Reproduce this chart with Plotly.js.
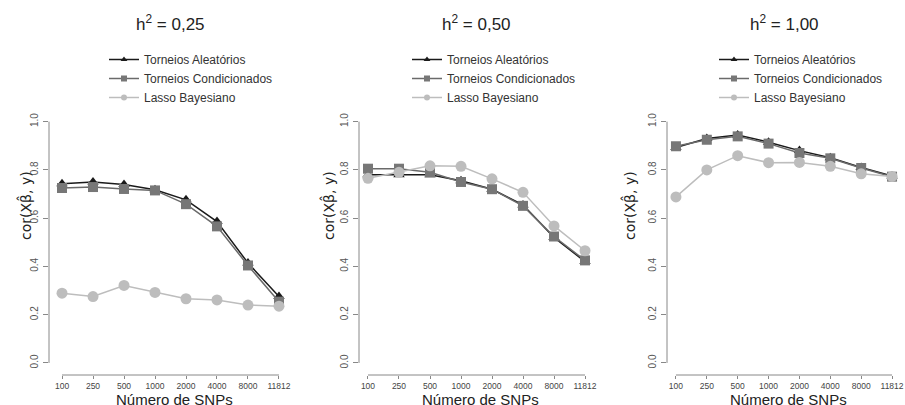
<!DOCTYPE html>
<html>
<head>
<meta charset="utf-8">
<script src="https://cdn.plot.ly/plotly-3.0.1.min.js"></script>
<style>html,body{margin:0;padding:0;background:#fff;}#chart{width:905px;height:405px;}</style>
</head>
<body>
<div id="chart"></div>
<script>
// ---- data ----
const categories = ['100', '250', '500', '1000', '2000', '4000', '8000', '11812'];
const seriesNames = ['Torneios Aleatórios', 'Torneios Condicionados', 'Lasso Bayesiano'];
const panelTitles = ['0,25', '0,50', '1,00'];
const yTickVals = [0, 0.2, 0.4, 0.6, 0.8, 1.0];
const yTickText = ['0.0', '0.2', '0.4', '0.6', '0.8', '1.0'];

// h2 = 0.25
const ta025 = [0.743, 0.750, 0.740, 0.718, 0.676, 0.586, 0.414, 0.275];
const tc025 = [0.725, 0.729, 0.721, 0.715, 0.658, 0.566, 0.404, 0.254];
const lb025 = [0.289, 0.275, 0.321, 0.292, 0.266, 0.261, 0.240, 0.235];
// h2 = 0.50
const ta050 = [0.780, 0.780, 0.780, 0.755, 0.720, 0.655, 0.520, 0.420];
const tc050 = [0.805, 0.805, 0.790, 0.750, 0.720, 0.651, 0.524, 0.425];
const lb050 = [0.765, 0.790, 0.817, 0.815, 0.763, 0.707, 0.568, 0.465];
// h2 = 1.00
const ta100 = [0.893, 0.930, 0.945, 0.915, 0.880, 0.850, 0.810, 0.775];
const tc100 = [0.898, 0.925, 0.939, 0.909, 0.870, 0.848, 0.808, 0.772];
const lb100 = [0.688, 0.800, 0.859, 0.830, 0.831, 0.815, 0.784, 0.773];

const panels = [[ta025, tc025, lb025], [ta050, tc050, lb050], [ta100, tc100, lb100]];

// ---- styles ----
const styles = [
  {line: '#1a1a1a', marker: '#1a1a1a', symbol: 'triangle-up', size: 10},
  {line: '#6a6a6a', marker: '#777777', symbol: 'square', size: 10},
  {line: '#bdbdbd', marker: '#bdbdbd', symbol: 'circle', size: 11}
];
const font = 'Liberation Sans, Arial, Helvetica, sans-serif';
const W = 905, H = 405;
const px = v => v / W;
const py = v => 1 - v / H;

const geom = [
  {l: 49, r: 292, pad: 0.42, ytitle: 25, legx: 104},
  {l: 359, r: 594, pad: 0.29, ytitle: 328, legx: 407},
  {l: 667, r: 901, pad: 0.29, ytitle: 629, legx: 714}
];
const yDom = [py(375), py(112)];

const traces = [];
const layout = {
  width: W, height: H,
  margin: {l: 0, r: 0, t: 0, b: 0},
  paper_bgcolor: '#ffffff', plot_bgcolor: '#ffffff',
  font: {family: font, color: '#333333'},
  showlegend: true,
  shapes: [], annotations: []
};

panels.forEach((series, p) => {
  const sfx = p === 0 ? '' : String(p + 1);
  const legName = p === 0 ? 'legend' : 'legend' + (p + 1);
  series.forEach((vals, s) => {
    traces.push({
      type: 'scatter', mode: 'lines+markers',
      x: categories, y: vals, name: seriesNames[s],
      xaxis: 'x' + sfx, yaxis: 'y' + sfx, showlegend: false,
      line: {color: styles[s].line, width: 1.5},
      marker: {symbol: styles[s].symbol, size: styles[s].size, color: styles[s].marker},
      hoverinfo: 'x+y'
    });
  });
  // legend entries (small key symbols, as in the original)
  series.forEach((vals, s) => {
    traces.push({
      type: 'scatter', mode: 'lines+markers',
      x: [null], y: [null], name: seriesNames[s],
      xaxis: 'x' + sfx, yaxis: 'y' + sfx, legend: legName, showlegend: true,
      line: {color: styles[s].line, width: 1.5},
      marker: {symbol: styles[s].symbol, size: 6, color: styles[s].marker},
      hoverinfo: 'skip'
    });
  });
  const g = geom[p];
  layout['xaxis' + sfx] = {
    type: 'category', domain: [px(g.l), px(g.r)], anchor: 'y' + sfx,
    range: [-g.pad, categories.length - 1 + g.pad],
    showgrid: false, zeroline: false, showline: false,
    ticks: 'outside', ticklen: 3, tickcolor: '#888888', tickwidth: 1,
    tickfont: {size: 8.5, color: '#444444', family: font}, tickangle: 0
  };
  layout['yaxis' + sfx] = {
    domain: yDom, anchor: 'x' + sfx, range: [-0.05, 1.04],
    showgrid: false, zeroline: false, showline: false,
    tickvals: yTickVals, ticktext: yTickText,
    ticks: 'outside', ticklen: 5, tickcolor: '#888888', tickwidth: 1,
    ticklabelstandoff: 1,
    tickfont: {size: 10, color: '#555555', family: font}, tickangle: -90
  };
  layout[legName] = {
    x: px(g.legx), y: py(45), xanchor: 'left', yanchor: 'top',
    bgcolor: 'rgba(0,0,0,0)', font: {size: 12, color: '#333333', family: font},
    tracegroupgap: 0
  };
  layout.shapes.push({
    type: 'line', xref: 'x' + sfx + ' domain', x0: 0, x1: 0,
    yref: 'y' + sfx, y0: yTickVals[0], y1: yTickVals[yTickVals.length - 1],
    line: {color: '#888888', width: 1}
  });
  layout.shapes.push({
    type: 'line', xref: 'x' + sfx, x0: 0, x1: categories.length - 1,
    yref: 'y' + sfx + ' domain', y0: 0, y1: 0,
    line: {color: '#888888', width: 1}
  });
  layout.annotations.push({
    xref: 'paper', yref: 'paper', x: px((g.l + g.r) / 2), y: py(23),
    xanchor: 'center', yanchor: 'middle', showarrow: false,
    text: 'h<sup>2</sup> = ' + panelTitles[p],
    font: {size: 17, color: '#222222', family: font}
  });
  layout.annotations.push({
    xref: 'paper', yref: 'paper', x: px(g.ytitle), y: py(206),
    xanchor: 'center', yanchor: 'middle', showarrow: false, textangle: -90,
    text: 'cor(X\u03B2\u0302, y)',
    font: {size: 14, color: '#222222', family: 'DejaVu Sans, sans-serif'}
  });
  layout.annotations.push({
    xref: 'paper', yref: 'paper', x: px((g.l + g.r) / 2 + 4), y: py(389),
    xanchor: 'center', yanchor: 'top', showarrow: false,
    text: 'Número de SNPs',
    font: {size: 15, color: '#222222', family: font}
  });
});

Plotly.newPlot('chart', traces, layout, {displayModeBar: false, staticPlot: true});
</script>
</body>
</html>
